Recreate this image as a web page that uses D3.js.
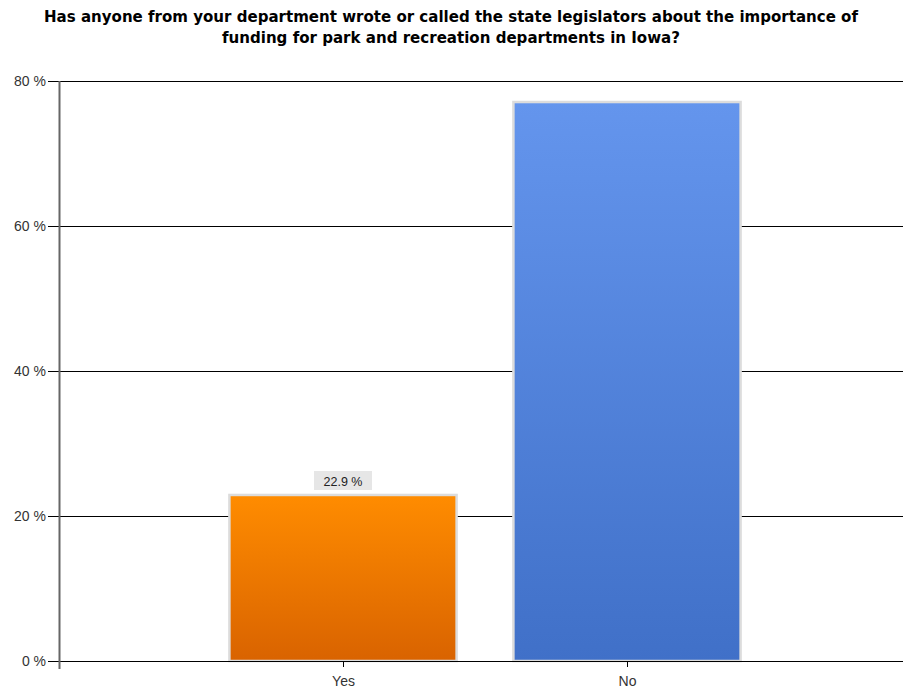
<!DOCTYPE html>
<html>
<head>
<meta charset="utf-8">
<script src="https://cdn.jsdelivr.net/npm/d3@7/dist/d3.min.js"></script>
<style>
  html, body { margin: 0; padding: 0; background: #fff; }
  svg { display: block; }
</style>
</head>
<body>
<svg id="chart" width="903" height="692"></svg>
<script>
// Survey answers and their shares (percent)
const categories = ["Yes", "No"];
const values = [22.9, 77.1];
const yTicks = [0, 20, 40, 60, 80];
const titleLines = [
  "Has anyone from your department wrote or called the state legislators about the importance of",
  "funding for park and recreation departments in Iowa?"
];

const svg = d3.select("#chart");
const W = 903, H = 692;
const plotLeft = 59, plotTop = 81, plotBottom = 661;

const y = d3.scaleLinear().domain([0, 80]).range([plotBottom, plotTop]);
const x = d3.scalePoint().domain(categories).range([plotLeft, 911]).padding(1);
const step = x.step();
const barW = step * 0.8;

// gradients
const defs = svg.append("defs");
const grads = [
  { id: "gYes", c0: "#ff8c00", c1: "#d96300" },
  { id: "gNo", c0: "#6495ed", c1: "#4070c8" }
];
grads.forEach(g => {
  const lg = defs.append("linearGradient").attr("id", g.id)
    .attr("x1", 0).attr("y1", 0).attr("x2", 0).attr("y2", 1);
  lg.append("stop").attr("offset", "0%").attr("stop-color", g.c0);
  lg.append("stop").attr("offset", "100%").attr("stop-color", g.c1);
});

// title
const titleWidths = [814, 458];
svg.append("g").selectAll("text").data(titleLines).join("text")
  .attr("x", 451).attr("y", (d, i) => 22 + i * 21)
  .attr("text-anchor", "middle")
  .attr("font-family", "'DejaVu Sans', Verdana, sans-serif")
  .attr("font-weight", "bold").attr("font-size", 15)
  .attr("fill", "#000")
  .attr("textLength", (d, i) => titleWidths[i])
  .attr("lengthAdjust", "spacingAndGlyphs")
  .text(d => d);

// horizontal gridlines with ticks
const yAxis = d3.axisLeft(y).tickValues(yTicks)
  .tickSize(0).tickPadding(4)
  .tickFormat(d => d + " %");
const gy = svg.append("g").attr("transform", `translate(${plotLeft},0)`).call(yAxis);
gy.select(".domain").remove();
gy.selectAll(".tick line").attr("stroke", "#000").attr("stroke-width", 1)
  .attr("x1", -11).attr("x2", W - plotLeft);
gy.selectAll(".tick text")
  .attr("x", -13)
  .attr("font-family", "'Liberation Sans', Arial, sans-serif")
  .attr("font-size", 14).attr("fill", "#333");

// bars
const bars = svg.append("g");
categories.forEach((c, i) => {
  bars.append("rect")
    .attr("x", x(c) - barW / 2)
    .attr("y", y(values[i]))
    .attr("width", barW)
    .attr("height", plotBottom - y(values[i]))
    .attr("fill", `url(#${grads[i].id})`)
    .attr("stroke", "#dcdcdc").attr("stroke-width", 2.5);
});

// value label on the first bar
const lx = x(categories[0]), ly = y(values[0]);
svg.append("rect").attr("x", lx - 29).attr("y", ly - 24)
  .attr("width", 58).attr("height", 19).attr("fill", "#e6e6e6");
svg.append("text").attr("x", lx).attr("y", ly - 9)
  .attr("text-anchor", "middle")
  .attr("font-family", "'Liberation Sans', Arial, sans-serif")
  .attr("font-size", 12.5).attr("fill", "#222")
  .text(values[0].toFixed(1) + " %");

// x axis
const xAxis = d3.axisBottom(x).tickSize(6).tickPadding(9);
const gx = svg.append("g").attr("transform", `translate(0,${plotBottom})`).call(xAxis);
gx.select(".domain").remove();
gx.selectAll(".tick line").attr("stroke", "#000");
gx.selectAll(".tick text")
  .attr("font-family", "'Liberation Sans', Arial, sans-serif")
  .attr("font-size", 14).attr("fill", "#333");
svg.append("line").attr("x1", plotLeft - 11).attr("x2", W)
  .attr("y1", plotBottom + 0.5).attr("y2", plotBottom + 0.5).attr("stroke", "#000");

// vertical axis line
svg.append("line").attr("x1", plotLeft + 0.5).attr("x2", plotLeft + 0.5)
  .attr("y1", plotTop).attr("y2", plotBottom + 8)
  .attr("stroke", "#666").attr("stroke-width", 2);
</script>
</body>
</html>
